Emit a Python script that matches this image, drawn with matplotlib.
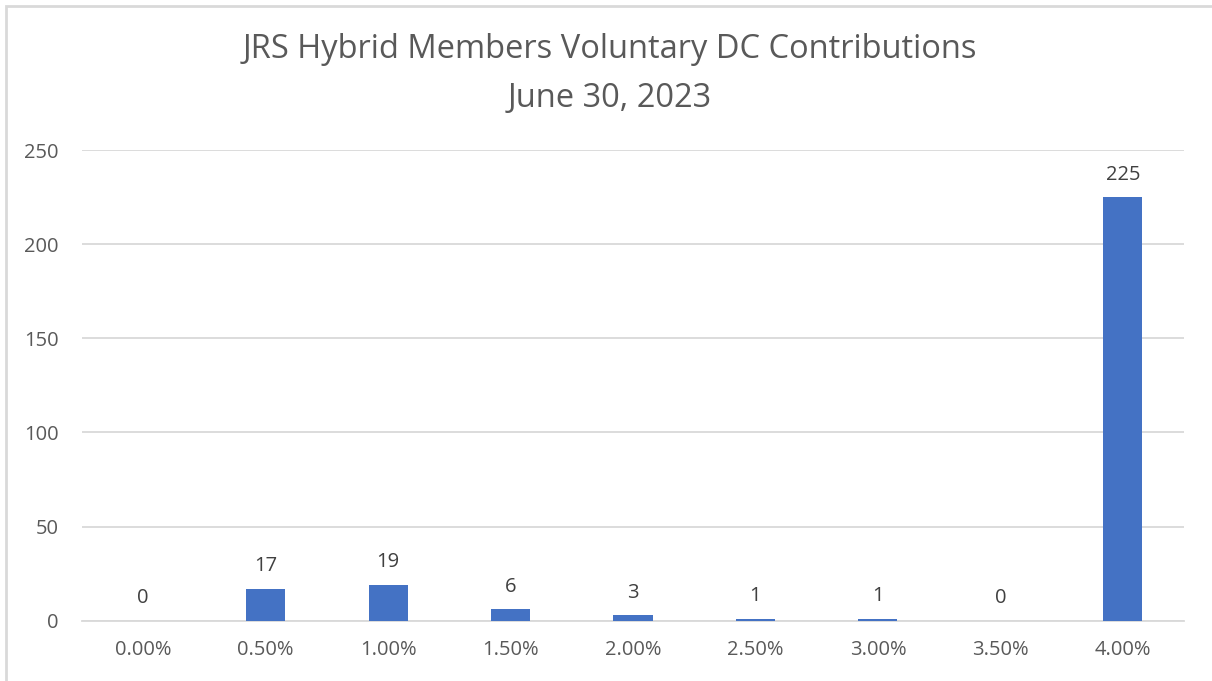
import matplotlib.pyplot as plt
from matplotlib.patches import Rectangle

categories = ["0.00%", "0.50%", "1.00%", "1.50%", "2.00%", "2.50%", "3.00%", "3.50%", "4.00%"]
members = [0, 17, 19, 6, 3, 1, 1, 0, 225]
y_ticks = [0, 50, 100, 150, 200, 250]

plt.rcParams['font.family'] = ['Open Sans', 'DejaVu Sans']

W, H = 1212, 681
fig = plt.figure(figsize=(W / 100, H / 100), dpi=100)

# thin chart-area border (cropped on right/bottom)
fig.patches.append(Rectangle((6 / W, -0.1), 1.2, (H - 6) / H + 0.1, transform=fig.transFigure,
                             fill=False, edgecolor='#D9D9D9', linewidth=2))

ax = fig.add_axes([82 / W, 1 - 620.7 / H, (1184 - 82) / W, (620.7 - 150) / H])

x = list(range(len(categories)))
ax.bar(x, members, width=0.32, color='#4472C4', zorder=3)

for xi, v in zip(x, members):
    ax.annotate(str(v), (xi, v), xytext=(0, 9), textcoords='offset points',
                ha='center', va='bottom', fontsize=14.5, color='#404040')

ax.set_xlim(-0.5, len(categories) - 0.5)
ax.set_ylim(0, 250)
ax.set_yticks(y_ticks)
ax.set_xticks(x)
ax.set_xticklabels(categories)
ax.tick_params(axis='both', length=0, labelsize=14.5, labelcolor='#595959')
ax.tick_params(axis='y', pad=17)
ax.tick_params(axis='x', pad=14)
ax.grid(axis='y', color='#D9D9D9', linewidth=1.3, zorder=0)
for side in ['top', 'right', 'left']:
    ax.spines[side].set_visible(False)
ax.spines['bottom'].set_color('#D9D9D9')
ax.spines['bottom'].set_linewidth(1.3)

fig.text(610 / W, 1 - 74 / H, "JRS Hybrid Members Voluntary DC Contributions\nJune 30, 2023",
         ha='center', va='center', fontsize=23.5, color='#595959', linespacing=1.65)

fig.savefig("out.png", dpi=100)
